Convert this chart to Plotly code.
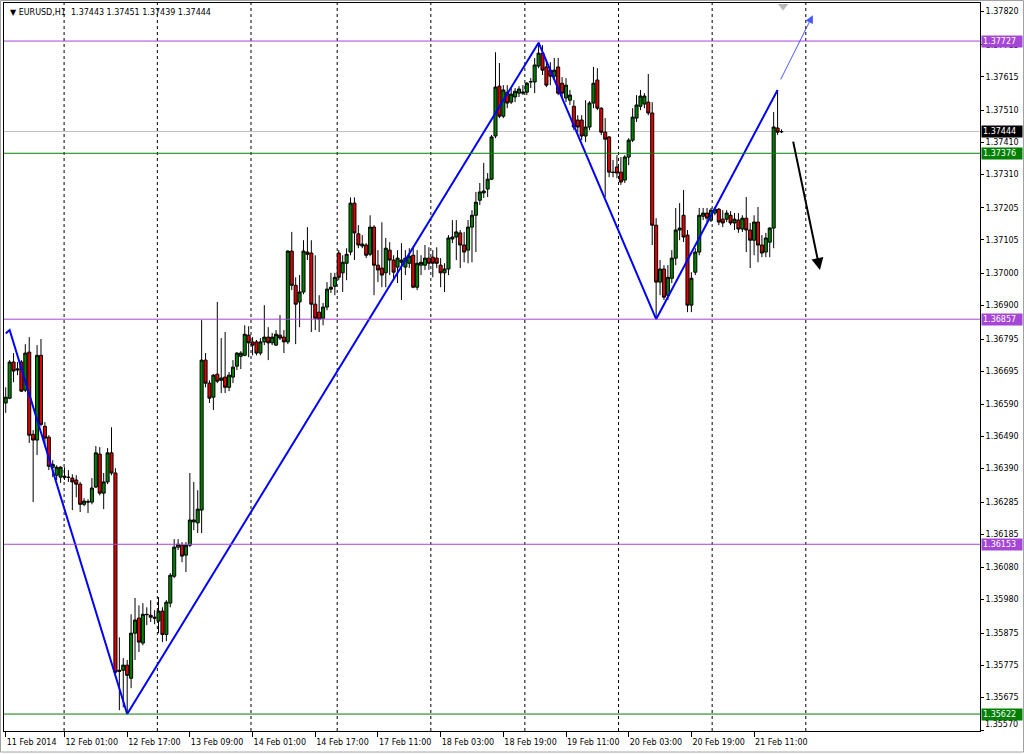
import plotly.graph_objects as go

# ---------------- data (EURUSD H1, prices) ----------------
bars = list(range(199))

opens = [1.36595,1.36610,1.36723,1.36698,1.36723,1.36635,1.36754,1.36497,1.36479,1.36744,
1.36522,1.36488,1.36394,1.36369,1.36363,1.36366,1.36363,1.36360,1.36354,1.36341,
1.36278,1.36285,1.36285,1.36332,1.36435,1.36313,1.36348,1.36439,1.36376,1.35759,
1.35759,1.35775,1.35734,1.35875,1.35922,1.35844,1.35934,1.35931,1.35925,1.35913,
1.35944,1.35871,1.35969,1.36053,1.36144,1.36150,1.36119,1.36150,1.36223,1.36220,
1.36260,1.36729,1.36657,1.36613,1.36685,1.36666,1.36676,1.36644,1.36676,1.36710,
1.36741,1.36744,1.36807,1.36786,1.36786,1.36751,1.36786,1.36801,1.36783,1.36776,
1.36807,1.36801,1.36786,1.37070,1.36963,1.36911,1.36942,1.37067,1.37064,1.36904,
1.36879,1.36860,1.36895,1.36951,1.36960,1.37064,1.37002,1.37032,1.37067,1.37220,
1.37124,1.37086,1.37089,1.37060,1.37145,1.37026,1.37017,1.37002,1.37073,1.37042,
1.37020,1.37035,1.37020,1.37032,1.37057,1.36957,1.37026,1.37026,1.37048,1.37051,
1.37048,1.37026,1.37002,1.37014,1.37108,1.37114,1.37127,1.37089,1.37073,1.37145,
1.37182,1.37229,1.37252,1.37264,1.37295,1.37430,1.37586,1.37492,1.37567,1.37536,
1.37552,1.37564,1.37564,1.37567,1.37599,1.37599,1.37649,1.37689,1.37646,1.37636,
1.37617,1.37646,1.37595,1.37549,1.37542,1.37523,1.37480,1.37480,1.37430,1.37458,
1.37533,1.37605,1.37517,1.37442,1.37427,1.37317,1.37333,1.37317,1.37292,1.37364,
1.37417,1.37486,1.37523,1.37530,1.37536,1.37502,1.37151,1.36973,1.37014,1.36932,
1.36985,1.37048,1.37136,1.37182,1.37120,1.36901,1.37004,1.37067,1.37179,1.37189,
1.37167,1.37189,1.37201,1.37170,1.37170,1.37182,1.37158,1.37167,1.37139,1.37173,
1.37136,1.37104,1.37161,1.37089,1.37067,1.37098,1.37142,1.37455,1.37443]

highs = [1.36644,1.36729,1.36751,1.36723,1.36729,1.36779,1.36801,1.36510,1.36776,1.36795,
1.36535,1.36494,1.36416,1.36400,1.36397,1.36394,1.36385,1.36372,1.36369,1.36348,
1.36297,1.36294,1.36360,1.36460,1.36457,1.36376,1.36454,1.36519,1.36391,1.35862,
1.35797,1.35791,1.35934,1.35985,1.35962,1.35969,1.35956,1.35978,1.35947,1.35988,
1.35956,1.35978,1.36063,1.36169,1.36169,1.36160,1.36160,1.36376,1.36348,1.36322,
1.36854,1.36751,1.36666,1.36685,1.36911,1.36798,1.36817,1.36692,1.36729,1.36754,
1.36757,1.36838,1.36835,1.36801,1.36792,1.36798,1.36901,1.36832,1.36814,1.36823,
1.36870,1.36823,1.37073,1.37130,1.36988,1.36995,1.37104,1.37145,1.37104,1.37057,
1.36932,1.36908,1.36973,1.37002,1.37002,1.37073,1.37057,1.37079,1.37238,1.37238,
1.37151,1.37120,1.37095,1.37182,1.37151,1.37073,1.37160,1.37111,1.37098,1.37057,
1.37073,1.37095,1.37073,1.37079,1.37082,1.37073,1.37057,1.37089,1.37082,1.37073,
1.37082,1.37048,1.37032,1.37120,1.37167,1.37167,1.37136,1.37130,1.37167,1.37198,
1.37255,1.37283,1.37346,1.37314,1.37433,1.37692,1.37658,1.37589,1.37589,1.37580,
1.37580,1.37586,1.37589,1.37599,1.37611,1.37674,1.37722,1.37714,1.37667,1.37661,
1.37674,1.37674,1.37614,1.37611,1.37574,1.37542,1.37495,1.37495,1.37542,1.37539,
1.37646,1.37642,1.37520,1.37486,1.37430,1.37355,1.37370,1.37364,1.37370,1.37423,
1.37517,1.37558,1.37574,1.37564,1.37624,1.37536,1.37173,1.37042,1.37026,1.37026,
1.37073,1.37205,1.37220,1.37261,1.37136,1.37004,1.37079,1.37205,1.37205,1.37205,
1.37205,1.37208,1.37205,1.37198,1.37198,1.37195,1.37189,1.37189,1.37182,1.37239,
1.37158,1.37182,1.37208,1.37120,1.37127,1.37145,1.37505,1.37574,1.37451]

lows = [1.36564,1.36607,1.36660,1.36682,1.36629,1.36629,1.36470,1.36285,1.36432,1.36522,
1.36457,1.36385,1.36363,1.36354,1.36345,1.36354,1.36348,1.36260,1.36300,1.36254,
1.36272,1.36251,1.36278,1.36329,1.36306,1.36263,1.36341,1.36369,1.35743,1.35634,
1.35643,1.35622,1.35703,1.35791,1.35816,1.35837,1.35900,1.35910,1.35903,1.35875,
1.35847,1.35850,1.35956,1.36047,1.36135,1.36097,1.36066,1.36144,1.36197,1.36188,
1.36188,1.36644,1.36595,1.36573,1.36657,1.36626,1.36626,1.36632,1.36657,1.36698,
1.36701,1.36741,1.36738,1.36744,1.36744,1.36744,1.36776,1.36729,1.36776,1.36773,
1.36792,1.36751,1.36779,1.36948,1.36779,1.36832,1.36935,1.37042,1.36817,1.36823,
1.36817,1.36838,1.36885,1.36939,1.36932,1.36979,1.36942,1.36979,1.37057,1.37042,
1.37079,1.37079,1.37048,1.37054,1.36932,1.36973,1.36957,1.36957,1.36995,1.36979,
1.36970,1.36917,1.36995,1.37017,1.36954,1.36948,1.36995,1.37011,1.37011,1.36988,
1.37017,1.36957,1.36942,1.36995,1.37095,1.37042,1.37017,1.37035,1.37032,1.37035,
1.37067,1.37214,1.37236,1.37239,1.37292,1.37423,1.37486,1.37486,1.37517,1.37530,
1.37536,1.37552,1.37558,1.37558,1.37580,1.37564,1.37642,1.37621,1.37583,1.37589,
1.37605,1.37558,1.37549,1.37536,1.37527,1.37448,1.37442,1.37417,1.37411,1.37448,
1.37517,1.37511,1.37433,1.37239,1.37301,1.37301,1.37298,1.37277,1.37283,1.37339,
1.37411,1.37474,1.37511,1.37517,1.37495,1.37089,1.36857,1.36932,1.36917,1.36917,
1.36970,1.37026,1.37104,1.37098,1.36879,1.36879,1.36995,1.37057,1.37167,1.37161,
1.37161,1.37182,1.37151,1.37145,1.37161,1.37151,1.37136,1.37127,1.37130,1.37067,
1.37017,1.37057,1.37035,1.37051,1.37051,1.37051,1.37079,1.37433,1.37439]

closes = [1.36613,1.36723,1.36695,1.36701,1.36632,1.36751,1.36494,1.36479,1.36744,1.36528,
1.36485,1.36397,1.36403,1.36394,1.36394,1.36363,1.36362,1.36348,1.36341,1.36278,
1.36288,1.36286,1.36329,1.36439,1.36313,1.36348,1.36439,1.36376,1.35753,1.35756,
1.35775,1.35743,1.35875,1.35916,1.35847,1.35934,1.35933,1.35925,1.35922,1.35944,
1.35871,1.35972,1.36056,1.36144,1.36153,1.36116,1.36150,1.36229,1.36229,1.36263,
1.36729,1.36657,1.36610,1.36682,1.36663,1.36673,1.36644,1.36682,1.36707,1.36751,
1.36751,1.36810,1.36783,1.36776,1.36751,1.36786,1.36801,1.36783,1.36801,1.36810,
1.36798,1.36786,1.37070,1.36963,1.36904,1.36942,1.37070,1.37060,1.36904,1.36860,
1.36857,1.36895,1.36951,1.36957,1.36988,1.36988,1.37035,1.37060,1.37220,1.37127,
1.37089,1.37092,1.37057,1.37145,1.37026,1.37011,1.36995,1.37079,1.37042,1.37004,
1.37048,1.37042,1.37048,1.37054,1.36957,1.37032,1.37035,1.37048,1.37032,1.37032,
1.37032,1.37002,1.37014,1.37111,1.37114,1.37130,1.37089,1.37067,1.37145,1.37182,
1.37223,1.37255,1.37258,1.37295,1.37427,1.37583,1.37492,1.37574,1.37533,1.37561,
1.37570,1.37577,1.37567,1.37595,1.37600,1.37652,1.37689,1.37636,1.37589,1.37617,
1.37636,1.37564,1.37564,1.37589,1.37558,1.37458,1.37458,1.37430,1.37458,1.37533,
1.37595,1.37517,1.37442,1.37420,1.37317,1.37316,1.37314,1.37286,1.37364,1.37417,
1.37489,1.37527,1.37555,1.37555,1.37502,1.37151,1.36973,1.37014,1.36926,1.36988,
1.37048,1.37136,1.37142,1.37114,1.36901,1.36985,1.37067,1.37182,1.37189,1.37173,
1.37198,1.37201,1.37161,1.37158,1.37189,1.37158,1.37170,1.37139,1.37173,1.37136,
1.37104,1.37161,1.37089,1.37064,1.37111,1.37142,1.37458,1.37442,1.37444]

# time-axis labels (bar index -> text)
time_tick_bars = [0, 15, 31, 47, 63, 79, 95, 111, 127, 143, 159, 175, 191]
time_tick_text = ["11 Feb 2014", "12 Feb 01:00", "12 Feb 17:00", "13 Feb 09:00",
                  "14 Feb 01:00", "14 Feb 17:00", "17 Feb 11:00", "18 Feb 03:00",
                  "18 Feb 19:00", "19 Feb 11:00", "20 Feb 03:00", "20 Feb 19:00",
                  "21 Feb 11:00"]
grid_bars = [14.9, 38.7, 62.6, 84.6, 108.5, 132.5, 156.4, 180.3, 204.2]

# price axis labels
price_ticks = [1.37820, 1.37715, 1.37615, 1.37510, 1.37410, 1.37310, 1.37205, 1.37105,
               1.37000, 1.36900, 1.36795, 1.36695, 1.36590, 1.36490, 1.36390, 1.36285,
               1.36185, 1.36080, 1.35980, 1.35875, 1.35775, 1.35675, 1.35570]

# horizontal levels
level_prices = [1.37727, 1.37376, 1.36857, 1.36153, 1.35622]
level_colors = ["#A646D6", "#008000", "#A646D6", "#A646D6", "#008000"]
bid_price = 1.37444

# zig-zag drawn on the chart
zz_bars = [0, 1, 31, 136, 166, 197]
zz_prices = [1.36812, 1.36823, 1.35622, 1.37722, 1.36857, 1.37574]

# arrows: (tail bar, tail price, head bar, head price)
blue_arrow = (197.6, 1.37602, 206.0, 1.37808)
black_arrow = (200.9, 1.37417, 207.8, 1.37011)

x_range = [-0.44, 248.66]
y_range = [1.35569, 1.37846]

FONT = "DejaVu Sans"

fig = go.Figure()

fig.add_trace(go.Candlestick(
    x=bars, open=opens, high=highs, low=lows, close=closes,
    increasing=dict(line=dict(color="#000000", width=1), fillcolor="#008000"),
    decreasing=dict(line=dict(color="#000000", width=1), fillcolor="#E00000"),
    whiskerwidth=0, hoverinfo="skip", showlegend=False,
))

fig.add_trace(go.Scatter(
    x=zz_bars, y=zz_prices, mode="lines",
    line=dict(color="#0000FF", width=2), hoverinfo="skip", showlegend=False,
))

# chart-shift marker
fig.add_trace(go.Scatter(
    x=[198.4], y=[1.37836], mode="markers",
    marker=dict(symbol="triangle-down", size=9, color="#B8B8B8"),
    cliponaxis=False, hoverinfo="skip", showlegend=False,
))

shapes = []
for gb in grid_bars:
    shapes.append(dict(type="line", xref="x", yref="paper", x0=gb, x1=gb, y0=0, y1=1,
                       line=dict(color="#000000", width=1, dash="3px,3px"), layer="below"))
shapes.append(dict(type="line", xref="paper", yref="y", x0=0, x1=1, y0=bid_price, y1=bid_price,
                   line=dict(color="#C0C0C0", width=1), layer="below"))
for p, c in zip(level_prices, level_colors):
    shapes.append(dict(type="line", xref="paper", yref="y", x0=0, x1=1, y0=p, y1=p,
                       line=dict(color=c, width=1)))
# outer window frame
shapes.append(dict(type="rect", xref="paper", yref="paper",
                   x0=-0.0036, x1=1.0446, y0=-0.0289, y1=1.0034,
                   line=dict(color="#A0A0A0", width=1), layer="below"))

annotations = []
# header
annotations.append(dict(xref="paper", yref="paper", x=0.004, y=0.9875, xanchor="left",
                        yanchor="middle", showarrow=False,
                        text="▼ EURUSD,H1  1.37443 1.37451 1.37439 1.37444",
                        font=dict(family=FONT, size=8, color="#000000")))
# bottom price label (drawn just above the frame corner, as on the terminal)
annotations.append(dict(xref="paper", yref="paper", x=1, y=0, xanchor="left", yanchor="bottom",
                        xshift=3, yshift=0, showarrow=False, text=f"{price_ticks[-1]:.5f}",
                        font=dict(family=FONT, size=8, color="#000000")))
# price labels on the right axis
for p, c in zip(level_prices, level_colors):
    annotations.append(dict(xref="paper", yref="y", x=1, y=p, xanchor="left", yanchor="middle",
                            xshift=1, showarrow=False, text=f"{p:.5f}", bgcolor=c,
                            font=dict(family=FONT, size=8, color="#FFFFFF"),
                            width=38, align="left", borderpad=1))
annotations.append(dict(xref="paper", yref="y", x=1, y=bid_price, xanchor="left", yanchor="middle",
                        xshift=1, showarrow=False, text=f"{bid_price:.5f}", bgcolor="#000000",
                        font=dict(family=FONT, size=8, color="#FFFFFF"),
                        width=38, align="left", borderpad=1))
# arrows
tb, tp, hb, hp = blue_arrow
annotations.append(dict(x=hb, y=hp, ax=tb, ay=tp, xref="x", yref="y", axref="x", ayref="y",
                        text="", showarrow=True, arrowhead=2, arrowsize=1.6, arrowwidth=1,
                        arrowcolor="rgba(40,60,255,0.85)", standoff=0))
tb, tp, hb, hp = black_arrow
annotations.append(dict(x=hb, y=hp, ax=tb, ay=tp, xref="x", yref="y", axref="x", ayref="y",
                        text="", showarrow=True, arrowhead=2, arrowsize=1.2, arrowwidth=2,
                        arrowcolor="#000000", standoff=0))

fig.update_layout(
    width=1024, height=754,
    margin=dict(l=4, r=44, t=3, b=23, pad=0, autoexpand=False),
    paper_bgcolor="#FFFFFF", plot_bgcolor="#FFFFFF",
    showlegend=False, hovermode=False,
    boxgap=0.22, boxgroupgap=0,
    shapes=shapes, annotations=annotations,
    font=dict(family=FONT, size=8, color="#000000"),
)
fig.update_xaxes(
    range=x_range, rangeslider=dict(visible=False),
    tickmode="array", tickvals=time_tick_bars, ticktext=time_tick_text,
    ticks="outside", ticklen=5, tickcolor="#000000", tickwidth=1,
    ticklabelposition="outside right", tickangle=0, ticklabelstandoff=3,
    tickfont=dict(family=FONT, size=8, color="#000000"),
    showgrid=False, zeroline=False, automargin=False,
    showline=True, linecolor="#000000", linewidth=1, mirror=True,
)
fig.update_yaxes(
    range=y_range, side="right",
    tickmode="array", tickvals=price_ticks,
    ticktext=[f"{v:.5f}" for v in price_ticks[:-1]] + [""],
    ticks="outside", ticklen=3, tickcolor="#000000", tickwidth=1,
    tickfont=dict(family=FONT, size=8, color="#000000"),
    showgrid=False, zeroline=False, automargin=False,
    showline=True, linecolor="#000000", linewidth=1, mirror=True,
)

fig.write_html(
    "out.html",
    config={"displayModeBar": False},
    post_script="document.body.style.margin='0';document.body.style.overflow='hidden';",
)
